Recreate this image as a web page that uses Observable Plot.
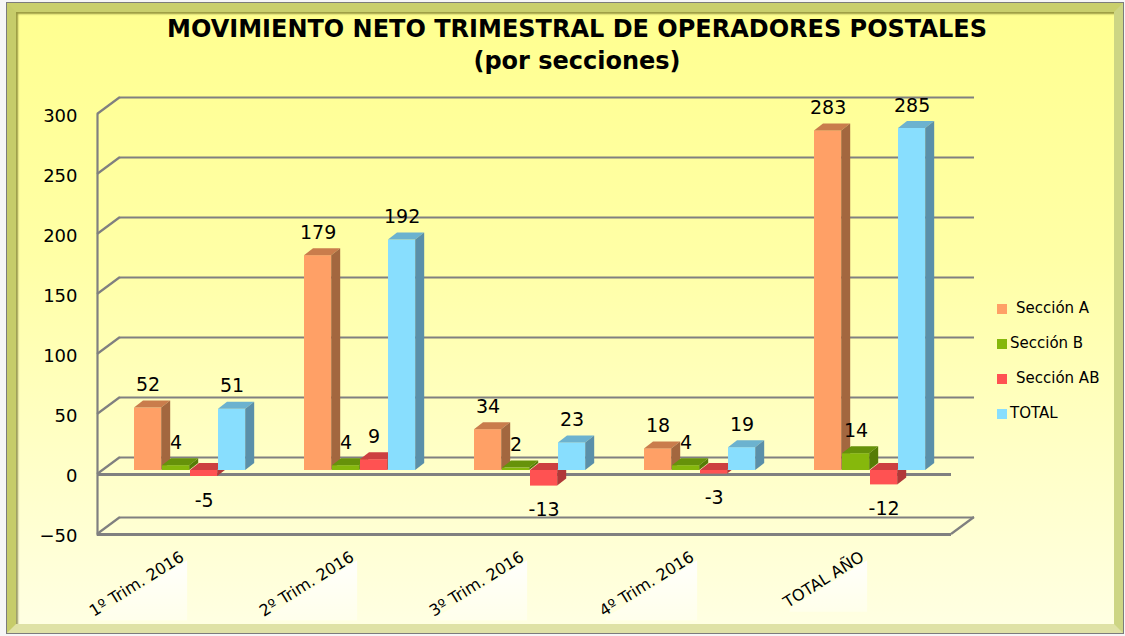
<!DOCTYPE html>
<html><head><meta charset="utf-8">
<script src="https://cdn.jsdelivr.net/npm/d3@7"></script>
<script src="https://cdn.jsdelivr.net/npm/@observablehq/plot@0.6"></script>
<style>
body{margin:0;background:#fff;}
#wrap{position:relative;width:1125px;height:636px;overflow:hidden;font-family:"DejaVu Sans",Verdana,sans-serif;background:#f6f6f6;}
#frame{position:absolute;left:6px;top:2px;width:1118px;height:632px;box-sizing:border-box;border:1px solid #7c7c7c;}
#inner{position:absolute;inset:0;border:9px solid;border-color:#c9cf6c #cdd584 #dfe2a6 #c6cc6a;background:linear-gradient(#ffff90 0%,#ffffa6 40%,#ffffe2 100%);box-shadow:inset 2px 2px 2px rgba(70,70,0,.55);}
#title{position:absolute;left:0;width:1154px;top:13px;text-align:center;font-weight:bold;font-size:24px;line-height:32px;color:#000;}
#chart{position:absolute;left:0;top:0;}
.leg{position:absolute;font-size:15px;color:#000;}
.sw{position:absolute;width:10px;height:10px;}
</style></head>
<body>
<div id="wrap">
  <div id="frame"><div id="inner"></div></div>
  <div id="chart"></div>
  <div id="title">MOVIMIENTO NETO TRIMESTRAL DE OPERADORES POSTALES<br>(por secciones)</div>
  <div id="legend"></div>
</div>
<script>
const categories = ["1º Trim. 2016", "2º Trim. 2016", "3º Trim. 2016", "4º Trim. 2016", "TOTAL AÑO"];
const series = ["Sección A", "Sección B", "Sección AB", "TOTAL"];
const seccionA = [52, 179, 34, 18, 283];
const seccionB = [4, 4, 2, 4, 14];
const seccionAB = [-5, 9, -13, -3, -12];
const total = [51, 192, 23, 19, 285];
const yTicks = [-50, 0, 50, 100, 150, 200, 250, 300];

const frontColors = ["#ffa066", "#86b80c", "#ff5252", "#88defe"];
const topColors = ["#c97c4c", "#66920a", "#cc4040", "#6cb2cf"];
const sideColors = ["#a3673f", "#557c06", "#b13838", "#5a8fa9"];
const GRID = "#808080";
const FONT = "'DejaVu Sans', Verdana, sans-serif";

const values = [seccionA, seccionB, seccionAB, total];
const data = [];
series.forEach((s, si) => categories.forEach((c, ci) => data.push({cat: c, series: s, si, value: values[si][ci]})));

const W = 1125, H = 636, ML = 97, MR = 174, MT = 114, MB = 102;
const STEP = (W - ML - MR) / categories.length;
const DX = 23, DY = 17;     // wall depth
const BDX = 9, BDY = 7;     // bar depth
const BW = 28, OFF = 35, BAR_DY = -4;
const XL_ROT = -32, XL_SIZE = 16, XL_DX = -2, XL_DY = 21;

function diagonals(ticks, side) {
  return Plot.ruleY(ticks, {
    y: d => d,
    render(index, scales, vals, dims) {
      const g = d3.create("svg:g").attr("stroke", GRID).attr("stroke-width", 2.2);
      const x0 = side === "left" ? dims.marginLeft : dims.width - dims.marginRight;
      for (const i of index) {
        g.append("line").attr("x1", x0).attr("y1", vals.y[i]).attr("x2", x0 + DX).attr("y2", vals.y[i] - DY);
      }
      return g.node();
    }
  });
}

function bars3d(si) {
  const rows = data.filter(d => d.si === si);
  return Plot.barY(rows, {
    x: "cat", y1: 0, y2: "value",
    fill: frontColors[si],
    insetLeft: OFF + BW * si,
    insetRight: STEP - OFF - BW * (si + 1),
    dy: BAR_DY,
    render(index, scales, vals, dims, ctx, next) {
      const g = next(index, scales, vals, dims, ctx);
      const rects = Array.from(g.querySelectorAll("rect"));
      for (const r of rects) {
        const x = +r.getAttribute("x"), y = +r.getAttribute("y");
        const w = +r.getAttribute("width"), h = +r.getAttribute("height");
        d3.select(g).append("polygon")
          .attr("points", [[x, y], [x + w, y], [x + w + BDX, y - BDY], [x + BDX, y - BDY]].join(" "))
          .attr("fill", topColors[si]);
        d3.select(g).append("polygon")
          .attr("points", [[x + w, y], [x + w + BDX, y - BDY], [x + w + BDX, y + h - BDY], [x + w, y + h]].join(" "))
          .attr("fill", sideColors[si]);
      }
      return g;
    }
  });
}

function labels(si) {
  const rows = data.filter(d => d.si === si);
  const dx = OFF + BW * si + BW / 2 - STEP / 2;
  return [
    Plot.text(rows, {filter: d => d.value >= 0, x: "cat", y: "value", text: d => String(d.value), dx, dy: BAR_DY - 23, fontSize: 19, fill: "#000"}),
    Plot.text(rows, {filter: d => d.value < 0, x: "cat", y: "value", text: d => String(d.value), dx, dy: BAR_DY + 24, fontSize: 19, fill: "#000"})
  ];
}

// pale highlight under each rotated category label
const measureCtx = document.createElement("canvas").getContext("2d");
measureCtx.font = `${XL_SIZE}px 'DejaVu Sans'`;
function labelHighlights() {
  return Plot.dot(categories, {
    x: d => d, frameAnchor: "bottom",
    render(index, scales, vals, dims) {
      const g = d3.create("svg:g");
      const defs = g.append("defs");
      const grad = defs.append("linearGradient").attr("id", "hl").attr("x1", 0).attr("y1", 0).attr("x2", 0).attr("y2", 1);
      grad.append("stop").attr("offset", "0%").attr("stop-color", "#fff").attr("stop-opacity", 0.95);
      grad.append("stop").attr("offset", "100%").attr("stop-color", "#fff").attr("stop-opacity", 0.35);
      const a = -XL_ROT * Math.PI / 180;
      const y0 = dims.height - dims.marginBottom;
      for (const i of index) {
        const cx = vals.x[i] + STEP / 2;
        const L = measureCtx.measureText(categories[i]).width;
        const ex = cx + XL_DX + 0.32 * XL_SIZE * Math.sin(a) + 2;
        const ey = y0 + XL_DY + 0.32 * XL_SIZE * Math.cos(a) + 1;
        const sx = ex - L * Math.cos(a), sy = ey + L * Math.sin(a);
        g.append("polygon")
          .attr("points", [[sx, sy], [ex, ey], [ex, sy + 3], [sx, sy + 3]].join(" "))
          .attr("fill", "url(#hl)");
      }
      return g.node();
    }
  });
}

const chart = Plot.plot({
  width: W, height: H,
  marginLeft: ML, marginRight: MR, marginTop: MT, marginBottom: MB,
  style: {background: "transparent", fontFamily: FONT, color: "#000", overflow: "visible"},
  x: {domain: categories, padding: 0, axis: null},
  y: {domain: [yTicks[0], yTicks[yTicks.length - 1]], axis: null},
  marks: [
    Plot.ruleY(yTicks, {y: d => d, dx: DX, dy: -DY, stroke: GRID, strokeWidth: 2.2}),
    diagonals(yTicks, "left"),
    diagonals([yTicks[0]], "right"),
    Plot.ruleY([0, yTicks[0]], {y: d => d, stroke: GRID, strokeWidth: 3}),
    Plot.frame({anchor: "left", stroke: GRID, strokeWidth: 2.2}),
    ...series.map((s, si) => bars3d(si)),
    ...series.flatMap((s, si) => labels(si)),
    Plot.axisY({ticks: yTicks, tickSize: 0, tickPadding: 20, fontSize: 18, dy: 2, label: null}),
    labelHighlights(),
    Plot.text(categories, {x: d => d, text: d => d, frameAnchor: "bottom", rotate: XL_ROT, textAnchor: "end", lineAnchor: "middle", fontSize: XL_SIZE, dx: XL_DX, dy: XL_DY, fill: "#000"})
  ]
});
document.getElementById("chart").appendChild(chart);

const legendY = [309, 344, 379, 414];
const legendTextX = [1016, 1010, 1016, 1010];
const leg = document.getElementById("legend");
series.forEach((s, si) => {
  const sw = document.createElement("div");
  sw.className = "sw";
  sw.style.left = "997px"; sw.style.top = (legendY[si] - 5) + "px";
  sw.style.background = frontColors[si];
  leg.appendChild(sw);
  const t = document.createElement("div");
  t.className = "leg";
  t.textContent = s;
  t.style.left = legendTextX[si] + "px"; t.style.top = (legendY[si] - 10) + "px";
  leg.appendChild(t);
});
</script>
</body></html>
